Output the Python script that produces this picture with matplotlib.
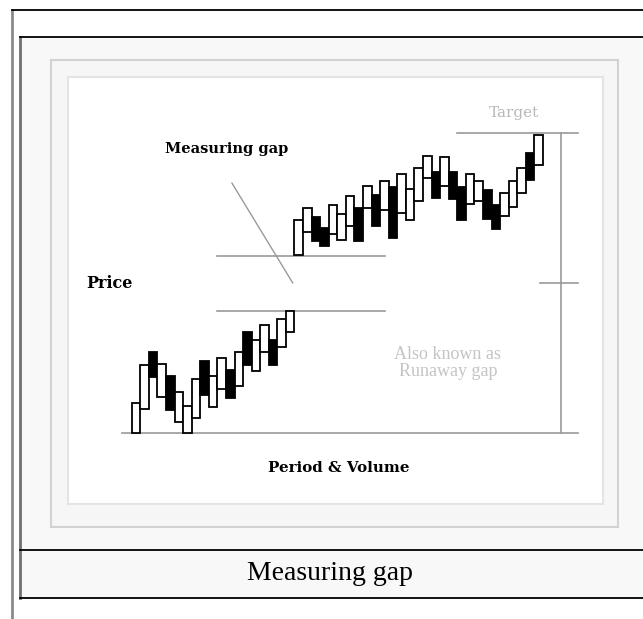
import numpy as np
import matplotlib.pyplot as plt
from matplotlib.patches import Rectangle

# Candle bodies (price units), one entry per period, left to right
# first run before the gap
lo1 = [0, 8, 18.5, 12, 7.5, 3.5, 0, 5, 12.5, 8.5, 14.5, 11.5, 15.5, 22.5, 20.5, 27, 22.5, 28.5, 33.5]
hi1 = [10, 22.5, 27, 23, 19, 13.5, 9, 18, 24, 19, 25, 21, 27, 33.5, 31, 36, 31, 38, 40.5]
dark1 = [0, 0, 1, 0, 1, 0, 0, 0, 1, 0, 0, 1, 0, 1, 0, 0, 1, 0, 0]
# second run after the gap
lo2 = [59.5, 67, 64, 62.5, 66.5, 64.5, 69, 64, 75, 69, 74.5, 65, 73.5, 71, 77.5, 85, 78.5,
       82.5, 78, 71, 76.5, 77.5, 71.5, 68, 72.5, 75.5, 80, 84.5, 89.5]
hi2 = [71, 75, 72, 68.5, 76, 73, 79, 75, 82.5, 79.5, 84, 82, 86.5, 81.5, 88.5, 92.5, 87,
       92, 87, 82, 86.5, 84, 81, 76, 80, 84, 88.5, 93.5, 99.5]
dark2 = [0, 0, 1, 1, 0, 0, 0, 1, 0, 1, 0, 1, 0, 0, 0, 0, 1, 0, 1, 1, 0, 0, 1, 1, 0, 0, 0, 1, 0]

lo = np.array(lo1 + lo2)
hi = np.array(hi1 + hi2)
dark = np.array(dark1 + dark2, dtype=bool)
period = np.arange(len(lo))

gap_low = 40.7
gap_high = 59
target = 100
mid_tick = 50

W, H = 643, 619
fig = plt.figure(figsize=(W / 100, H / 100), dpi=100)

# page / caption frame drawn in pixel space
bg = fig.add_axes([0, 0, 1, 1])
bg.set_xlim(0, W)
bg.set_ylim(H, 0)
bg.axis("off")
bg.plot([12, 12], [10, H], color="#8a8a8a", lw=2)
bg.plot([12, W], [10, 10], color="black", lw=1.3)
bg.add_patch(Rectangle((20, 37), W - 20, 561, facecolor="#f8f8f8", edgecolor="none"))
bg.plot([20, 20], [37, 598], color="#707070", lw=2)
bg.plot([20, W], [37, 37], color="black", lw=1.3)
bg.plot([20, W], [550, 550], color="black", lw=1.3)
bg.plot([20, W], [598, 598], color="black", lw=1.3)
bg.add_patch(Rectangle((51, 60), 567, 467, facecolor="#f6f6f6", edgecolor="#d2d2d2", lw=1.5))
bg.add_patch(Rectangle((68, 77), 535, 427, facecolor="white", edgecolor="#e4e4e4", lw=1.5))
bg.text(330, 574, "Measuring gap", ha="center", va="center",
        fontsize=20, family="Liberation Serif", color="black")

# chart area
ax = fig.add_axes([68 / W, (H - 504) / H, 535 / W, 427 / H])
ax.set_xlim(-7.93, 54.5)
ax.set_ylim(-23.67, 118.67)
ax.axis("off")

ax.bar(period, hi - lo, bottom=lo, width=1.0,
       color=np.where(dark, "black", "white"), edgecolor="black", lw=1.3, zorder=3)

line_c = "#9a9a9a"
ax.plot([-1.63, 51.6], [0, 0], color=line_c, lw=1.2)
ax.plot([9.45, 29.05], [gap_low, gap_low], color=line_c, lw=1.2)
ax.plot([9.45, 29.05], [gap_high, gap_high], color=line_c, lw=1.2)
ax.plot([37.5, 51.6], [target, target], color=line_c, lw=1.2)
ax.plot([49.6, 49.6], [0, target], color=line_c, lw=1.2)
ax.plot([47.1, 51.6], [mid_tick, mid_tick], color=line_c, lw=1.2)
ax.plot([11.2, 18.3], [83.3, 50], color=line_c, lw=1.0)

lab = dict(family="DejaVu Serif", fontweight="bold", color="black", ha="center", va="center")
ax.text(10.6, 94.7, "Measuring gap", fontsize=10.5, **lab)
ax.text(-3.1, 49.7, "Price", fontsize=11.5, **lab)
ax.text(23.7, -11.7, "Period & Volume", fontsize=10.8, **lab)
ax.text(44.1, 106.7, "Target", fontsize=11, family="DejaVu Serif",
        color="#b8b8b8", ha="center", va="center")
ax.text(36.4, 23.3, "Also known as\nRunaway gap", fontsize=13, family="Liberation Serif",
        color="#c4c4c4", ha="center", va="center", linespacing=1.0)

fig.savefig("out.png", dpi=100)
